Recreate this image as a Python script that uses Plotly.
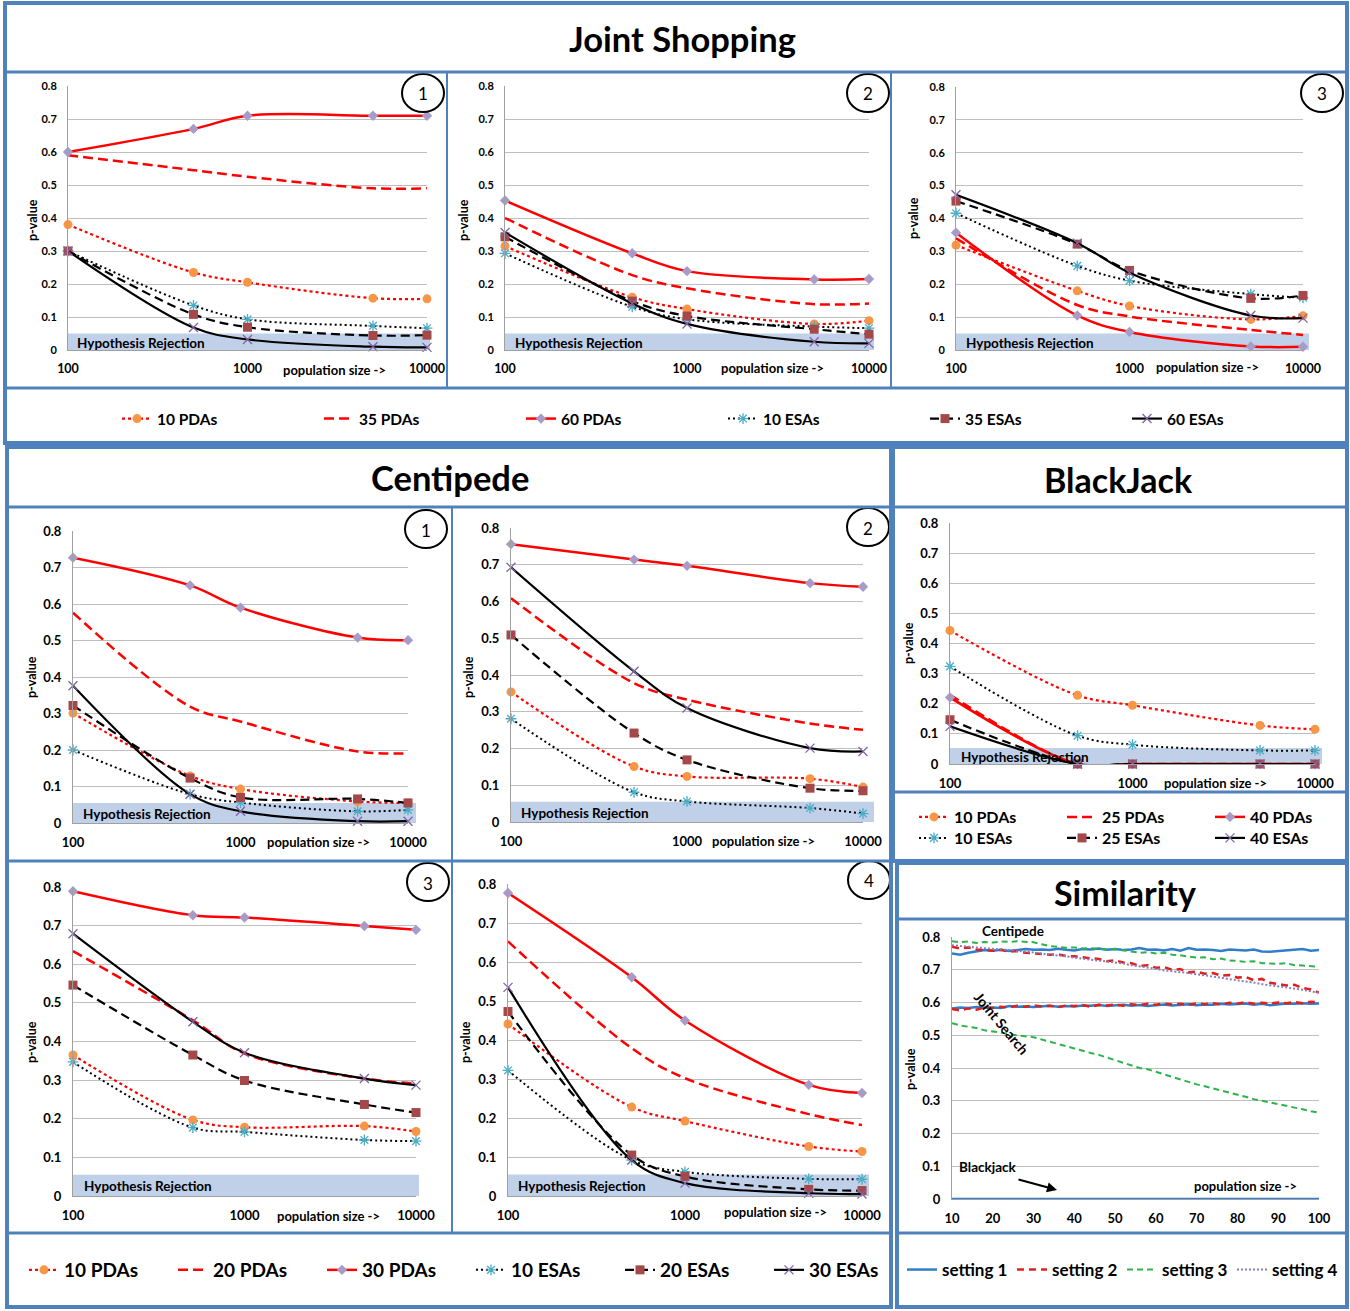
import plotly.graph_objects as go

W, H = 1350, 1311
FONT = "Lato"
FRAME = "#4F81BD"

# ---------------- data ----------------
pop_sizes = [100, 500, 1000, 5000, 10000]
pop_ticks = [100, 1000, 10000]
pop_tick_text = ["100", "1000", "10000"]
p_ticks = [0, 0.1, 0.2, 0.3, 0.4, 0.5, 0.6, 0.7, 0.8]
p_tick_text = ["0", "0.1", "0.2", "0.3", "0.4", "0.5", "0.6", "0.7", "0.8"]

js_names = ["10 PDAs", "35 PDAs", "60 PDAs", "10 ESAs", "35 ESAs", "60 ESAs"]
cp_names = ["10 PDAs", "20 PDAs", "30 PDAs", "10 ESAs", "20 ESAs", "30 ESAs"]
bj_names = ["10 PDAs", "25 PDAs", "40 PDAs", "10 ESAs", "25 ESAs", "40 ESAs"]

# Joint Shopping 1
js1_pda10 = [0.38, 0.235, 0.205, 0.157, 0.155]
js1_pda35 = [0.59, 0.545, 0.525, 0.49, 0.49]
js1_pda60 = [0.60, 0.67, 0.71, 0.71, 0.71]
js1_esa10 = [0.30, 0.135, 0.093, 0.073, 0.066]
js1_esa35 = [0.30, 0.108, 0.069, 0.044, 0.045]
js1_esa60 = [0.30, 0.068, 0.032, 0.010, 0.008]
# Joint Shopping 2
js2_pda10 = [0.315, 0.160, 0.124, 0.079, 0.089]
js2_pda35 = [0.400, 0.227, 0.187, 0.139, 0.141]
js2_pda60 = [0.453, 0.293, 0.239, 0.214, 0.215]
js2_esa10 = [0.293, 0.131, 0.093, 0.071, 0.066]
js2_esa35 = [0.343, 0.148, 0.103, 0.063, 0.048]
js2_esa60 = [0.356, 0.141, 0.079, 0.025, 0.020]
# Joint Shopping 3
js3_pda10 = [0.319, 0.180, 0.134, 0.093, 0.104]
js3_pda35 = [0.340, 0.137, 0.102, 0.061, 0.046]
js3_pda60 = [0.357, 0.105, 0.055, 0.011, 0.010]
js3_esa10 = [0.416, 0.256, 0.211, 0.170, 0.159]
js3_esa35 = [0.453, 0.322, 0.242, 0.157, 0.166]
js3_esa60 = [0.472, 0.325, 0.235, 0.105, 0.097]
# Centipede 1
c1_pda10 = [0.301, 0.129, 0.093, 0.059, 0.055]
c1_pda20 = [0.576, 0.319, 0.278, 0.196, 0.191]
c1_pda30 = [0.727, 0.651, 0.590, 0.508, 0.501]
c1_esa10 = [0.200, 0.079, 0.056, 0.032, 0.036]
c1_esa20 = [0.322, 0.123, 0.070, 0.066, 0.055]
c1_esa30 = [0.376, 0.079, 0.032, 0.005, 0.005]
# Centipede 2
c2_pda10 = [0.354, 0.151, 0.124, 0.118, 0.095]
c2_pda20 = [0.609, 0.378, 0.333, 0.268, 0.251]
c2_pda30 = [0.756, 0.714, 0.697, 0.650, 0.640]
c2_esa10 = [0.281, 0.081, 0.056, 0.038, 0.023]
c2_esa20 = [0.509, 0.242, 0.169, 0.092, 0.085]
c2_esa30 = [0.693, 0.410, 0.310, 0.201, 0.192]
# Centipede 3
c3_pda10 = [0.365, 0.197, 0.178, 0.181, 0.167]
c3_pda20 = [0.634, 0.455, 0.369, 0.304, 0.291]
c3_pda30 = [0.789, 0.727, 0.721, 0.699, 0.689]
c3_esa10 = [0.347, 0.177, 0.166, 0.145, 0.142]
c3_esa20 = [0.546, 0.365, 0.299, 0.237, 0.216]
c3_esa30 = [0.679, 0.451, 0.371, 0.304, 0.287]
# Centipede 4
c4_pda10 = [0.441, 0.228, 0.192, 0.127, 0.114]
c4_pda20 = [0.653, 0.379, 0.302, 0.210, 0.182]
c4_pda30 = [0.777, 0.561, 0.450, 0.285, 0.264]
c4_esa10 = [0.322, 0.092, 0.062, 0.044, 0.043]
c4_esa20 = [0.473, 0.105, 0.050, 0.017, 0.014]
c4_esa30 = [0.535, 0.092, 0.033, 0.007, 0.005]
# BlackJack
bj_pda10 = [0.443, 0.228, 0.195, 0.128, 0.115]
bj_pda25 = [0.230, 0.0, 0.0, 0.0, 0.0]
bj_pda40 = [0.221, 0.0, 0.0, 0.0, 0.0]
bj_esa10 = [0.324, 0.094, 0.064, 0.045, 0.045]
bj_esa25 = [0.147, 0.0, 0.0, 0.0, 0.0]
bj_esa40 = [0.125, 0.0, 0.0, 0.0, 0.0]

# Similarity (population size 10..100, step 2)
sim_x = list(range(10, 101, 2))
sim_ticks = [10, 20, 30, 40, 50, 60, 70, 80, 90, 100]
sim_names = ["setting 1", "setting 2", "setting 3", "setting 4"]
cent_s1 = [0.750, 0.746, 0.752, 0.756, 0.760, 0.758, 0.761, 0.757, 0.760, 0.763,
           0.761, 0.762, 0.760, 0.764, 0.761, 0.759, 0.763, 0.762, 0.765, 0.761,
           0.763, 0.760, 0.762, 0.766, 0.761, 0.762, 0.759, 0.763, 0.758, 0.766,
           0.761, 0.762, 0.760, 0.757, 0.762, 0.761, 0.759, 0.762, 0.756, 0.755,
           0.757, 0.758, 0.760, 0.763, 0.758, 0.760]
cent_s2 = [0.770, 0.765, 0.768, 0.762, 0.760, 0.758, 0.761, 0.755, 0.757, 0.752,
           0.750, 0.748, 0.746, 0.747, 0.742, 0.741, 0.737, 0.735, 0.733, 0.726,
           0.729, 0.722, 0.720, 0.712, 0.714, 0.706, 0.708, 0.700, 0.702, 0.692,
           0.694, 0.688, 0.690, 0.682, 0.684, 0.676, 0.678, 0.668, 0.672, 0.660,
           0.656, 0.652, 0.654, 0.644, 0.640, 0.630]
cent_s3 = [0.787, 0.784, 0.786, 0.782, 0.785, 0.783, 0.786, 0.785, 0.787, 0.785,
           0.784, 0.778, 0.772, 0.770, 0.767, 0.768, 0.765, 0.766, 0.764, 0.762,
           0.763, 0.760, 0.757, 0.752, 0.754, 0.750, 0.752, 0.746, 0.744, 0.741,
           0.737, 0.738, 0.732, 0.734, 0.728, 0.727, 0.724, 0.726, 0.720, 0.719,
           0.718, 0.720, 0.714, 0.713, 0.710, 0.709]
cent_s4 = [0.775, 0.772, 0.771, 0.768, 0.766, 0.765, 0.762, 0.760, 0.758, 0.755,
           0.753, 0.749, 0.747, 0.743, 0.741, 0.737, 0.734, 0.732, 0.728, 0.726,
           0.722, 0.719, 0.714, 0.711, 0.706, 0.703, 0.698, 0.696, 0.692, 0.690,
           0.686, 0.683, 0.678, 0.676, 0.671, 0.668, 0.664, 0.661, 0.656, 0.653,
           0.649, 0.646, 0.642, 0.639, 0.634, 0.630]
jsearch_s1 = [0.582, 0.585, 0.583, 0.586, 0.584, 0.585, 0.583, 0.589, 0.587, 0.588,
              0.586, 0.589, 0.590, 0.587, 0.589, 0.588, 0.591, 0.590, 0.592, 0.589,
              0.591, 0.593, 0.590, 0.592, 0.589, 0.592, 0.594, 0.591, 0.593, 0.595,
              0.592, 0.594, 0.593, 0.596, 0.594, 0.595, 0.597, 0.593, 0.596, 0.592,
              0.595, 0.597, 0.596, 0.598, 0.596, 0.597]
jsearch_s2 = [0.580, 0.576, 0.582, 0.578, 0.585, 0.583, 0.587, 0.585, 0.590, 0.587,
              0.591, 0.588, 0.590, 0.586, 0.591, 0.589, 0.592, 0.587, 0.593, 0.591,
              0.594, 0.590, 0.595, 0.592, 0.596, 0.593, 0.597, 0.594, 0.596, 0.593,
              0.597, 0.595, 0.598, 0.594, 0.599, 0.596, 0.601, 0.596, 0.599, 0.597,
              0.600, 0.598, 0.601, 0.598, 0.602, 0.601]
jsearch_s3 = [0.537, 0.530, 0.526, 0.522, 0.515, 0.512, 0.508, 0.503, 0.500, 0.498,
              0.494, 0.487, 0.480, 0.474, 0.466, 0.458, 0.452, 0.446, 0.440, 0.432,
              0.424, 0.418, 0.408, 0.400, 0.396, 0.388, 0.380, 0.372, 0.364, 0.356,
              0.350, 0.344, 0.338, 0.331, 0.325, 0.319, 0.312, 0.305, 0.300, 0.296,
              0.290, 0.284, 0.279, 0.274, 0.268, 0.264]
bjack_s1 = [0.0] * len(sim_x)

HYP_JS = 0.05
HYP_CP = 0.055
HYP_BJ = 0.053

# ---------------- helpers ----------------
def fx(p):
    return p / W

def fy(p):
    return 1 - p / H

def tfont(size, bold=True):
    d = dict(family=FONT, size=size, color="black")
    if bold:
        d["weight"] = "bold"
    return d

STYLE = {
    "pda10": dict(mode="lines+markers",
                  line=dict(color="#FF0000", width=2.2, dash="3px,3px", shape="spline"),
                  marker=dict(symbol="circle", size=9, color="#F79646")),
    "pda_mid": dict(mode="lines",
                    line=dict(color="#FF0000", width=2.5, dash="10px,5px", shape="spline")),
    "pda_hi": dict(mode="lines+markers",
                   line=dict(color="#FF0000", width=2.5, shape="spline"),
                   marker=dict(symbol="diamond", size=8, color="#A99BC8")),
    "esa10": dict(mode="lines+markers",
                  line=dict(color="#000000", width=2, dash="2px,3px", shape="spline"),
                  marker=dict(symbol="asterisk-open", size=9, color="#4BACC6",
                              line=dict(width=1.3, color="#4BACC6"))),
    "esa_mid": dict(mode="lines+markers",
                    line=dict(color="#000000", width=2.2, dash="9px,5px", shape="spline"),
                    marker=dict(symbol="square", size=9, color="#A5484A")),
    "esa_hi": dict(mode="lines+markers",
                   line=dict(color="#000000", width=2.2, shape="spline"),
                   marker=dict(symbol="x-thin-open", size=9, color="#8064A2",
                               line=dict(width=1.3, color="#8064A2"))),
}
STYLE_KEYS = ["pda10", "pda_mid", "pda_hi", "esa10", "esa_mid", "esa_hi"]

fig = go.Figure()
layout = {}
shapes = []
annotations = []


def ids(i):
    s = "" if i == 1 else str(i)
    return "xaxis" + s, "yaxis" + s, "x" + s, "y" + s


def make_axes(i, box, xtype, xrange, xvals, xtext, xfs, yfs):
    x0, yt, x1, yb = box
    xa, ya, xr, yr = ids(i)
    layout[xa] = dict(domain=[fx(x0), fx(x1)], anchor=yr, type=xtype, range=xrange,
                      tickmode="array", tickvals=xvals, ticktext=xtext,
                      showgrid=False, zeroline=False, showline=True,
                      linecolor="#A0A0A0", linewidth=1, ticks="",
                      tickfont=tfont(xfs), ticklabelstandoff=7, fixedrange=True)
    layout[ya] = dict(domain=[fy(yb), fy(yt)], anchor=xr, range=[0, 0.8],
                      tickmode="array", tickvals=p_ticks, ticktext=p_tick_text,
                      showgrid=True, gridcolor="#BEBEBE", gridwidth=1,
                      zeroline=False, showline=True, linecolor="#A0A0A0",
                      linewidth=1, ticks="", tickfont=tfont(yfs),
                      ticklabelstandoff=8, fixedrange=True)
    return xr, yr


def ann(text, x, y, size=13, bold=True, xanchor="center", yanchor="middle", angle=0):
    annotations.append(dict(text=text, xref="paper", yref="paper", x=fx(x), y=fy(y),
                            showarrow=False, xanchor=xanchor, yanchor=yanchor,
                            textangle=angle, font=tfont(size, bold)))


def circle_num(num, cx, cy):
    shapes.append(dict(type="circle", xref="paper", yref="paper",
                       x0=fx(cx - 21), x1=fx(cx + 21), y0=fy(cy + 19), y1=fy(cy - 19),
                       line=dict(color="black", width=2), fillcolor="white", layer="above"))
    ann(num, cx, cy + 1, size=17, bold=False)


def log_panel(i, box, names, values, legends, show, xfs, yfs,
              hyp, hyp_text, band_right, pop_pos, pval_pos, circle=None):
    xr, yr = make_axes(i, box, "log", [2, 4], pop_ticks, pop_tick_text, xfs, yfs)
    for name, key, vals, leg in zip(names, STYLE_KEYS, values, legends):
        fig.add_trace(go.Scatter(x=pop_sizes, y=vals, name=name, xaxis=xr, yaxis=yr,
                                 legend=leg, showlegend=show, cliponaxis=False,
                                 hoverinfo="skip", **STYLE[key]))
    x0, yt, x1, yb = box
    band_top = yb - (yb - yt) * hyp / 0.8
    shapes.append(dict(type="rect", xref="paper", yref="paper",
                       x0=fx(x0), x1=fx(band_right), y0=fy(yb), y1=fy(band_top),
                       fillcolor="#BFD0E8", line=dict(width=0), layer="below"))
    ann("Hypothesis Rejection", hyp_text[0], hyp_text[1], size=13.5, xanchor="left")
    ann("population size ->", pop_pos[0], pop_pos[1], size=13)
    ann("p-value", pval_pos[0], pval_pos[1], size=12.5, angle=-90)
    if circle:
        circle_num(*circle)


# ---------------- Joint Shopping ----------------
L1 = ["legend"] * 6
log_panel(1, (68, 86, 427, 350), js_names,
          [js1_pda10, js1_pda35, js1_pda60, js1_esa10, js1_esa35, js1_esa60],
          L1, True, 12.5, 11, HYP_JS, (75, 343), 430, (334, 370), (32, 220), ("1", 423, 93))
log_panel(2, (505, 86, 869, 350), js_names,
          [js2_pda10, js2_pda35, js2_pda60, js2_esa10, js2_esa35, js2_esa60],
          L1, False, 12.5, 11, HYP_JS, (513, 343), 874, (773, 368), (463, 220), ("2", 868, 93))
log_panel(3, (956, 87, 1303, 350), js_names,
          [js3_pda10, js3_pda35, js3_pda60, js3_esa10, js3_esa35, js3_esa60],
          L1, False, 12.5, 11, HYP_JS, (964, 343), 1309, (1207, 367), (913, 218), ("3", 1322, 93))

# ---------------- Centipede ----------------
L2 = ["legend2"] * 6
log_panel(4, (73, 531, 408, 823), cp_names,
          [c1_pda10, c1_pda20, c1_pda30, c1_esa10, c1_esa20, c1_esa30],
          L2, True, 13, 13, HYP_CP, (81, 814), 416, (318, 842), (31, 677), ("1", 426, 529))
log_panel(5, (511, 528, 863, 822), cp_names,
          [c2_pda10, c2_pda20, c2_pda30, c2_esa10, c2_esa20, c2_esa30],
          L2, False, 13, 13, HYP_CP, (519, 813), 874, (763, 841), (468, 677), ("2", 868, 527))
log_panel(6, (73, 887, 416, 1196), cp_names,
          [c3_pda10, c3_pda20, c3_pda30, c3_esa10, c3_esa20, c3_esa30],
          L2, False, 13, 13, HYP_CP, (82, 1186), 419, (328, 1216), (31, 1042), ("3", 428, 882))
log_panel(7, (508, 884, 862, 1196), cp_names,
          [c4_pda10, c4_pda20, c4_pda30, c4_esa10, c4_esa20, c4_esa30],
          L2, False, 13, 13, HYP_CP, (516, 1186), 869, (775, 1212), (465, 1042), ("4", 869, 880))

# ---------------- BlackJack ----------------
L3 = ["legend3"] * 3 + ["legend4"] * 3
log_panel(8, (950, 523, 1315, 764), bj_names,
          [bj_pda10, bj_pda25, bj_pda40, bj_esa10, bj_esa25, bj_esa40],
          L3, True, 13, 13, HYP_BJ, (959, 757), 1322, (1215, 783), (908, 643))

# ---------------- Similarity ----------------
xr, yr = make_axes(9, (952, 937, 1319, 1199), "linear", [10, 100], sim_ticks,
                   [str(t) for t in sim_ticks], 13, 13)
sim_styles = [
    dict(color="#2F7DCB", width=2.5),
    dict(color="#E0201B", width=2.5, dash="7px,5px"),
    dict(color="#2DB34A", width=2, dash="6px,4px"),
    dict(color="#8A7DBA", width=2, dash="2px,2px"),
]
for name, vals, st in zip(sim_names, [cent_s1, cent_s2, cent_s3, cent_s4], sim_styles):
    fig.add_trace(go.Scatter(x=sim_x, y=vals, name=name, mode="lines", line=st,
                             xaxis=xr, yaxis=yr, legend="legend5", showlegend=True,
                             cliponaxis=False, hoverinfo="skip"))
for name, vals, st in zip(sim_names, [jsearch_s1, jsearch_s2, jsearch_s3], sim_styles):
    fig.add_trace(go.Scatter(x=sim_x, y=vals, name=name, mode="lines", line=st,
                             xaxis=xr, yaxis=yr, legend="legend5", showlegend=False,
                             cliponaxis=False, hoverinfo="skip"))
fig.add_trace(go.Scatter(x=sim_x, y=bjack_s1, name=sim_names[0], mode="lines",
                         line=sim_styles[0], xaxis=xr, yaxis=yr, legend="legend5",
                         showlegend=False, cliponaxis=False, hoverinfo="skip"))
ann("p-value", 910, 1069, size=12.5, angle=-90)
ann("Centipede", 1013, 931, size=13.5)
ann("Joint Search", 1002, 1023, size=14, angle=50)
ann("Blackjack", 987, 1167, size=13.5)
ann("population size ->", 1245, 1186, size=13)
annotations.append(dict(text="", xref="paper", yref="paper", x=fx(1057), y=fy(1190),
                        ax=-40, ay=-11, showarrow=True, arrowhead=2, arrowsize=1,
                        arrowwidth=2, arrowcolor="black"))

# ---------------- titles ----------------
ann("Joint Shopping", 682, 38, size=34.5)
ann("Centipede", 450, 477, size=34.5)
ann("BlackJack", 1118, 480, size=34)
ann("Similarity", 1125, 892, size=34)

# ---------------- frames ----------------
def rect(x0, y0, x1, y1, w=4):
    shapes.append(dict(type="rect", xref="paper", yref="paper", x0=fx(x0), x1=fx(x1),
                       y0=fy(y1), y1=fy(y0), line=dict(color=FRAME, width=w),
                       fillcolor="rgba(0,0,0,0)", layer="above"))

def hline(y, x0, x1, w=3):
    shapes.append(dict(type="line", xref="paper", yref="paper", x0=fx(x0), x1=fx(x1),
                       y0=fy(y), y1=fy(y), line=dict(color=FRAME, width=w), layer="above"))

def vline(x, y0, y1, w=2):
    shapes.append(dict(type="line", xref="paper", yref="paper", x0=fx(x), x1=fx(x),
                       y0=fy(y0), y1=fy(y1), line=dict(color=FRAME, width=w), layer="above"))

rect(5, 3, 1347, 443)
hline(72, 5, 1347)
hline(388, 5, 1347)
vline(447, 72, 388)
vline(891, 72, 388)

rect(7, 447, 891, 1307)
hline(507, 7, 891)
hline(861, 7, 891)
hline(1233, 7, 891)
vline(452, 507, 1233)

rect(893, 447, 1347, 861)
hline(507, 893, 1347)
hline(792, 893, 1347)

rect(897, 863, 1347, 1307)
hline(919, 897, 1347)
hline(1233, 897, 1347)

# ---------------- legends ----------------
def leg(x, y, ew, size):
    return dict(orientation="h", x=fx(x), y=fy(y), xanchor="left", yanchor="middle",
                entrywidthmode="pixels", entrywidth=ew, bgcolor="rgba(0,0,0,0)",
                borderwidth=0, font=tfont(size), itemclick=False, itemdoubleclick=False)

fig.update_layout(
    width=W, height=H, autosize=False,
    margin=dict(l=0, r=0, t=0, b=0, pad=0, autoexpand=False),
    paper_bgcolor="white", plot_bgcolor="rgba(0,0,0,0)",
    font=dict(family=FONT, color="black"),
    shapes=shapes, annotations=annotations,
    legend=leg(117, 419, 157, 15.5),
    legend2=leg(24, 1270, 104, 19),
    legend3=leg(914, 817, 103, 16),
    legend4=leg(914, 838, 103, 16),
    legend5=leg(902, 1270, 65, 17),
    **layout,
)

fig.write_html("out.html", config={"displayModeBar": False, "staticPlot": True},
               post_script="document.body.style.margin='0';")
